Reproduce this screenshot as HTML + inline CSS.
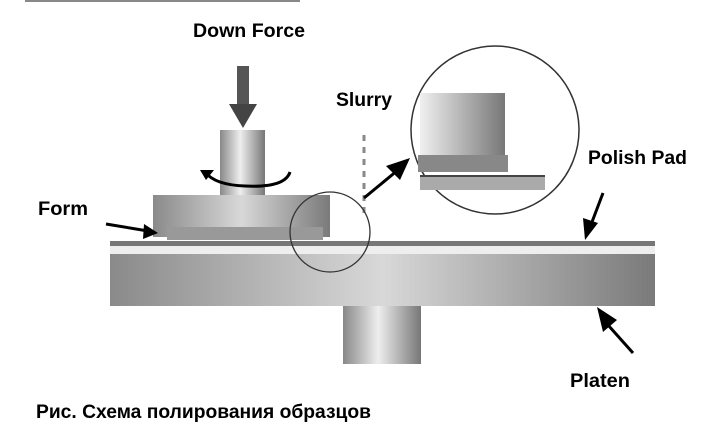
<!DOCTYPE html>
<html><head><meta charset="utf-8"><style>
html,body{margin:0;padding:0;background:#fff;width:712px;height:440px;overflow:hidden}
text{font-family:"Liberation Sans",sans-serif;font-weight:bold;fill:#000}
</style></head><body>
<svg width="712" height="440" viewBox="0 0 712 440" xmlns="http://www.w3.org/2000/svg">
<defs>
<linearGradient id="cyl" x1="0" x2="1" y1="0" y2="0">
<stop offset="0" stop-color="#888"/><stop offset="0.45" stop-color="#eee"/><stop offset="1" stop-color="#777"/></linearGradient>
<linearGradient id="plat" x1="0" x2="1" y1="0" y2="0">
<stop offset="0" stop-color="#8a8a8a"/><stop offset="0.5" stop-color="#d8d8d8"/><stop offset="1" stop-color="#7a7a7a"/></linearGradient>
<linearGradient id="blk" x1="0" x2="1"><stop offset="0" stop-color="#f0f0f0"/><stop offset="1" stop-color="#777"/></linearGradient>
</defs>
<line x1="25" y1="1" x2="300" y2="1" stroke="#888" stroke-width="2"/>
<text x="193" y="37" font-size="19" textLength="112" lengthAdjust="spacingAndGlyphs">Down Force</text>
<text x="336" y="106" font-size="19" textLength="56" lengthAdjust="spacingAndGlyphs">Slurry</text>
<text x="38" y="215" font-size="19" textLength="50" lengthAdjust="spacingAndGlyphs">Form</text>
<text x="588" y="164" font-size="19" textLength="99" lengthAdjust="spacingAndGlyphs">Polish Pad</text>
<text x="570" y="387" font-size="19" textLength="60" lengthAdjust="spacingAndGlyphs">Platen</text>
<text x="36" y="418" font-size="19" textLength="335" lengthAdjust="spacingAndGlyphs">Рис. Схема полирования образцов</text>
<rect x="110" y="254" width="545" height="52" fill="url(#plat)"/>
<rect x="110" y="246" width="545" height="8" fill="#eee"/>
<rect x="110" y="241" width="545" height="5" fill="#777"/>
<rect x="343" y="306" width="78" height="58" fill="url(#cyl)"/>
<rect x="153" y="195" width="177" height="42" fill="url(#plat)"/>
<rect x="167" y="227" width="156" height="13" fill="#999"/>
<rect x="220" y="130" width="45" height="65" fill="url(#cyl)"/>
<rect x="237" y="66" width="12" height="40" fill="#555"/>
<path d="M229,104L257,104L243,128z" fill="#444"/>
<path d="M290,172 Q285,188 245,186 Q215,185 205,172" fill="none" stroke="#000" stroke-width="3"/>
<path d="M200,170L214,170L206,180z" fill="#000"/>
<line x1="106" y1="224" x2="148" y2="231" stroke="#000" stroke-width="3"/>
<path d="M158,233L144,224L143,239z" fill="#000"/>
<line x1="364" y1="135" x2="364" y2="215" stroke="#888" stroke-width="3" stroke-dasharray="6,6"/>
<circle cx="330" cy="232" r="40" fill="none" stroke="#333" stroke-width="1.3"/>
<circle cx="495" cy="130" r="84" fill="#fff" stroke="#333" stroke-width="1.5"/>
<rect x="420" y="93" width="85" height="64" fill="url(#blk)"/>
<rect x="418" y="155" width="90" height="17" fill="#888"/>
<rect x="420" y="176" width="125" height="14" fill="#aaa"/>
<line x1="420" y1="176" x2="545" y2="176" stroke="#444" stroke-width="2"/>
<line x1="364" y1="198" x2="398" y2="170" stroke="#000" stroke-width="3"/>
<path d="M410,158L386,166L400,180z" fill="#000"/>
<line x1="603" y1="193" x2="592" y2="222" stroke="#000" stroke-width="3"/>
<path d="M585,240L583,218L598,223z" fill="#000"/>
<line x1="633" y1="353" x2="608" y2="325" stroke="#000" stroke-width="3"/>
<path d="M597,307L603,332L617,320z" fill="#000"/>
</svg>
</body></html>
